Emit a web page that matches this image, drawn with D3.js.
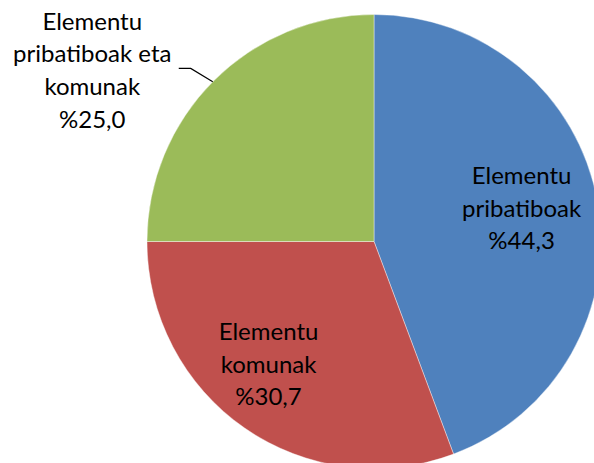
<!DOCTYPE html>
<html>
<head>
<meta charset="utf-8">
<script src="https://cdn.jsdelivr.net/npm/d3@7"></script>
<style>
  html, body { margin: 0; padding: 0; background: #fff; }
  svg { display: block; }
  text { font-family: Lato, "Liberation Sans", sans-serif; fill: #000; }
</style>
</head>
<body>
<svg id="chart" width="594" height="463"></svg>
<script>
// Slice data, clockwise from 12 o'clock
const categories = ["Elementu pribatiboak", "Elementu komunak", "Elementu pribatiboak eta komunak"];
const labelLines = [
  ["Elementu", "pribatiboak"],
  ["Elementu", "komunak"],
  ["Elementu", "pribatiboak eta", "komunak"]
];
const values = [44.3, 30.7, 25.0];
const colors = ["#4F81BD", "#C0504D", "#9BBB59"];

const svg = d3.select("#chart");
const cx = 374, cy = 241.5, R = 227;
const fmt = v => "%" + v.toFixed(1).replace(".", ",");

const pie = d3.pie().sort(null).value(d => d.value);
const arc = d3.arc().innerRadius(0).outerRadius(R);
const data = categories.map((c, i) => ({ name: c, value: values[i], color: colors[i], lines: labelLines[i] }));
const arcs = pie(data);

const g = svg.append("g").attr("transform", `translate(${cx},${cy})`);

g.selectAll("path.slice")
  .data(arcs)
  .enter().append("path")
  .attr("class", "slice")
  .attr("d", arc)
  .attr("fill", d => d.data.color)
  .attr("stroke", "#ffffff")
  .attr("stroke-opacity", 0.5)
  .attr("stroke-width", 0.8);

// Label placement: inside for the two large slices, outside with a leader for the last
const fontSize = 24, lineH = 32.5;
const labelArc = d3.arc().innerRadius(150).outerRadius(150);
const nudges = [[0, -6], [-20, 0]];

arcs.forEach((a, i) => {
  const lines = a.data.lines.concat([fmt(a.data.value)]);
  const t = g.append("text").attr("text-anchor", "middle").style("font-size", fontSize + "px");
  if (i === 2) {
    // leader line from the slice edge out to the label
    const ang = a.endAngle - 0.79;
    const edge = [R * Math.sin(ang), -R * Math.cos(ang)];
    const elbow = [edge[0] - 22, edge[1] - 13.3];
    const end = [elbow[0] - 12, elbow[1]];
    g.append("polyline")
      .attr("points", [edge, elbow, end].map(p => p.join(",")).join(" "))
      .attr("fill", "none")
      .attr("stroke", "#000")
      .attr("stroke-width", 1.2);
    const x = end[0] - 86.5;
    const y0 = end[1] - 38.7;
    lines.forEach((l, k) => {
      t.append("tspan").attr("x", x).attr("y", y0 + k * 32.7).text(l);
    });
  } else {
    const c = labelArc.centroid(a);
    const x = c[0] + nudges[i][0];
    const y = c[1] + nudges[i][1];
    lines.forEach((l, k) => {
      t.append("tspan").attr("x", x).attr("y", y + (k - (lines.length - 1) / 2) * lineH + 8).text(l);
    });
  }
});
</script>
</body>
</html>
